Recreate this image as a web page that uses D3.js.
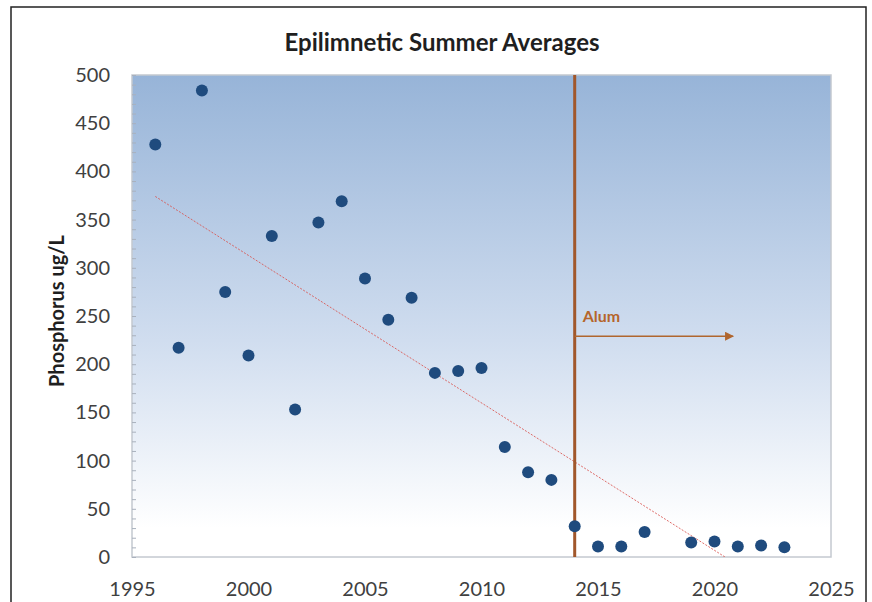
<!DOCTYPE html>
<html>
<head>
<meta charset="utf-8">
<script src="https://cdn.jsdelivr.net/npm/d3@7"></script>
<style>
    body { margin: 0; background: #ffffff; }
    svg { display: block; }
    .axis text { font-family: Lato, "Open Sans", sans-serif; font-size: 20px; fill: #404040; }
    .axis-title { font-family: Lato, "Open Sans", sans-serif; font-weight: bold; fill: #1f1f1f; }
</style>
</head>
<body>
<svg id="chart"></svg>
<script>
// values
const years = [1996, 1997, 1998, 1999, 2000, 2001, 2002, 2003, 2004, 2005, 2006, 2007,
    2008, 2009, 2010, 2011, 2012, 2013, 2014, 2015, 2016, 2017, 2019, 2020, 2021, 2022, 2023];
const phosphorus = [428, 217, 484, 275, 209, 333, 153, 347, 369, 289, 246, 269,
    191, 193, 196, 114, 88, 80, 32, 11, 11, 26, 15, 16, 11, 12, 10];
const xTicks = [1995, 2000, 2005, 2010, 2015, 2020, 2025];
const yTicks = [0, 50, 100, 150, 200, 250, 300, 350, 400, 450, 500];
const trendYears = [1996, 2023];
const trendValues = [374, -39];
const alumYear = 2014;
const arrowYears = [2014, 2020.8];
const arrowValue = 229;

class scatterChart {
    constructor(_config) {
        this.config = {
            parentElement: _config.parentElement,
            containerWidth: _config.containerWidth,
            containerHeight: _config.containerHeight,
            margin: { top: 75, bottom: 45, right: 41, left: 132 }
        };
        this.initVis();
    }

    initVis() {
        let vis = this;

        vis.width = vis.config.containerWidth - vis.config.margin.left - vis.config.margin.right;
        vis.height = vis.config.containerHeight - vis.config.margin.top - vis.config.margin.bottom;

        vis.svg = d3.select(vis.config.parentElement)
            .attr('width', vis.config.containerWidth)
            .attr('height', vis.config.containerHeight);

        // outer frame, bottom edge is cut off in the original
        vis.svg.append('rect')
            .attr('x', 11).attr('y', 7)
            .attr('width', 855).attr('height', 640)
            .attr('fill', 'none')
            .attr('stroke', '#222')
            .attr('stroke-width', 1.5);

        let defs = vis.svg.append('defs');
        let grad = defs.append('linearGradient')
            .attr('id', 'bg-grad')
            .attr('x1', 0).attr('y1', 0).attr('x2', 0).attr('y2', 1);
        grad.append('stop').attr('offset', '0%').attr('stop-color', '#97b4d8');
        grad.append('stop').attr('offset', '55%').attr('stop-color', '#d0ddef');
        grad.append('stop').attr('offset', '94%').attr('stop-color', '#ffffff');

        defs.append('clipPath').attr('id', 'plot-clip')
            .append('rect')
            .attr('width', vis.width)
            .attr('height', vis.height);

        defs.append('marker')
            .attr('id', 'arrow-head')
            .attr('viewBox', '0 0 10 10')
            .attr('refX', 9).attr('refY', 5)
            .attr('markerWidth', 6).attr('markerHeight', 6)
            .attr('orient', 'auto')
            .append('path')
            .attr('d', 'M0,0 L10,5 L0,10 z')
            .attr('fill', '#b0662e');

        vis.chart = vis.svg.append('g')
            .attr('transform', `translate(${vis.config.margin.left},${vis.config.margin.top})`);

        vis.chart.append('rect')
            .attr('width', vis.width)
            .attr('height', vis.height)
            .attr('fill', 'url(#bg-grad)')
            .attr('stroke', '#c4c9d0')
            .attr('stroke-width', 1.5);

        vis.svg.append('text')
            .attr('class', 'axis-title')
            .attr('x', 442)
            .attr('y', 51)
            .attr('text-anchor', 'middle')
            .style('font-size', '24px')
            .text('Epilimnetic Summer Averages');

        vis.svg.append('text')
            .attr('class', 'axis-title')
            .attr('transform', 'translate(64, 311) rotate(-90)')
            .attr('text-anchor', 'middle')
            .style('font-size', '20px')
            .text('Phosphorus ug/L');

        vis.xScale = d3.scaleLinear()
            .domain([1995, 2025])
            .range([0, vis.width]);

        vis.yScale = d3.scaleLinear()
            .domain([0, 500])
            .range([vis.height, 0]);

        vis.xAxis = d3.axisBottom(vis.xScale)
            .tickValues(xTicks)
            .tickFormat(d3.format('d'))
            .tickSize(0)
            .tickPadding(25);

        vis.yAxis = d3.axisLeft(vis.yScale)
            .tickValues(yTicks)
            .tickSize(0)
            .tickPadding(22);

        vis.chart.append('g')
            .attr('class', 'axis x-axis')
            .attr('transform', `translate(0,${vis.height})`)
            .call(vis.xAxis)
            .call(g => g.select('.domain').remove());

        vis.chart.append('g')
            .attr('class', 'axis y-axis')
            .call(vis.yAxis)
            .call(g => g.select('.domain').remove());

        // small inside ticks along the left edge
        vis.chart.append('g')
            .attr('class', 'minor-ticks')
            .call(d3.axisRight(vis.yScale).ticks(50).tickSize(4).tickFormat(''))
            .call(g => g.select('.domain').remove())
            .selectAll('line')
            .attr('stroke', '#a9b1bd');

        vis.updateVis();
    }

    updateVis() {
        let vis = this;

        vis.data = years.map((y, i) => ({ year: y, value: phosphorus[i] }));
        vis.trend = trendYears.map((y, i) => ({ year: y, value: trendValues[i] }));

        vis.chart.append('path')
            .datum(vis.trend)
            .attr('clip-path', 'url(#plot-clip)')
            .attr('fill', 'none')
            .attr('stroke', '#d9534f')
            .attr('stroke-width', 1)
            .attr('stroke-opacity', 0.85)
            .attr('stroke-dasharray', '2,1.5')
            .attr('d', d3.line().x(d => vis.xScale(d.year)).y(d => vis.yScale(d.value)));

        // alum treatment marker
        vis.chart.append('line')
            .attr('x1', vis.xScale(alumYear)).attr('x2', vis.xScale(alumYear))
            .attr('y1', 0).attr('y2', vis.height)
            .attr('stroke', '#a1572b')
            .attr('stroke-width', 3);

        vis.chart.append('line')
            .attr('x1', vis.xScale(arrowYears[0])).attr('x2', vis.xScale(arrowYears[1]))
            .attr('y1', vis.yScale(arrowValue)).attr('y2', vis.yScale(arrowValue))
            .attr('stroke', '#b0662e')
            .attr('stroke-width', 1.5)
            .attr('marker-end', 'url(#arrow-head)');

        vis.chart.append('text')
            .attr('x', vis.xScale(alumYear) + 8)
            .attr('y', vis.yScale(arrowValue) - 14)
            .style('font-family', 'Lato, "Open Sans", sans-serif')
            .style('font-weight', 'bold')
            .style('font-size', '16px')
            .attr('fill', '#b5652b')
            .text('Alum');

        vis.chart.selectAll('.dot')
            .data(vis.data)
            .join('circle')
            .attr('class', 'dot')
            .attr('cx', d => vis.xScale(d.year))
            .attr('cy', d => vis.yScale(d.value))
            .attr('r', 6)
            .attr('fill', '#1f4b7e');
    }
}

new scatterChart({ parentElement: '#chart', containerWidth: 872, containerHeight: 602 });
</script>
</body>
</html>
